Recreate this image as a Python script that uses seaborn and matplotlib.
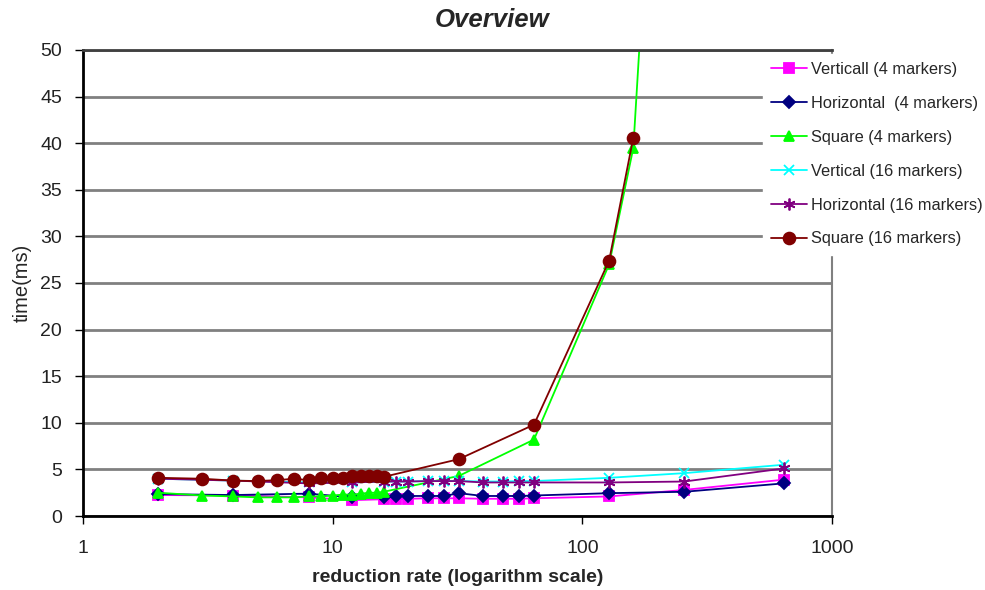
import seaborn as sns
import matplotlib.pyplot as plt
from matplotlib.ticker import FixedLocator, NullLocator, FuncFormatter

# reduction rates (x) for each group of series
x_square = [2, 3, 4, 5, 6, 7, 8, 9, 10, 11, 12, 13, 14, 15, 16, 32, 64, 128, 160]
x_square4 = x_square + [256]
x_lines = [2, 4, 8, 12, 16, 18, 20, 24, 28, 32, 40, 48, 56, 64, 128, 256, 640]

# times in ms
vertical4 = [2.25, 2.2, 2.0, 1.7, 1.8, 1.8, 1.85, 1.9, 1.9, 1.9, 1.85, 1.85, 1.85, 1.9, 2.1, 2.8, 3.9]
horizontal4 = [2.35, 2.25, 2.4, 2.0, 2.0, 2.1, 2.15, 2.15, 2.15, 2.45, 2.15, 2.15, 2.15, 2.2, 2.45, 2.6, 3.5]
square4 = [2.5, 2.2, 2.1, 2.0, 2.0, 2.0, 2.1, 2.1, 2.2, 2.3, 2.3, 2.4, 2.5, 2.5, 2.6, 4.3, 8.2, 27.0, 39.5, 130]
vertical16 = [4.0, 3.8, 3.6, 3.6, 3.7, 3.7, 3.7, 3.75, 3.75, 3.75, 3.7, 3.7, 3.75, 3.75, 4.1, 4.6, 5.5]
horizontal16 = [4.0, 3.8, 3.5, 3.6, 3.7, 3.7, 3.7, 3.75, 3.75, 3.75, 3.6, 3.6, 3.6, 3.6, 3.6, 3.7, 5.1]
square16 = [4.1, 4.0, 3.8, 3.75, 3.85, 4.0, 3.85, 4.1, 4.1, 4.1, 4.3, 4.3, 4.3, 4.3, 4.2, 6.1, 9.8, 27.4, 40.6]

series = [
    ("Verticall (4 markers)", x_lines, vertical4, "#FF00FF", "s", 6.5),
    ("Horizontal  (4 markers)", x_lines, horizontal4, "#000080", "D", 6),
    ("Square (4 markers)", x_square4, square4, "#00FF00", "^", 7.5),
    ("Vertical (16 markers)", x_lines, vertical16, "#00FFFF", "x", 7.5),
    ("Horizontal (16 markers)", x_lines, horizontal16, "#800080", (6, 2, 0), 8.5),
    ("Square (16 markers)", x_square, square16, "#800000", "o", 8.5),
]

sns.set_style("white")
plt.rcParams['font.family'] = ['Liberation Sans', 'DejaVu Sans']

fig = plt.figure(figsize=(9.85, 5.9), dpi=100)
ax = fig.add_axes([0.0843, 0.1254, 0.7604, 0.7899])

for name, xs, ys, color, marker, msize in series:
    sns.lineplot(x=xs, y=ys, ax=ax, color=color, marker=marker, markersize=msize,
                 markeredgecolor=color, markeredgewidth=1.3, linewidth=1.3,
                 label=name)

ax.set_xscale("log")
ax.set_xlim(1, 1000)
ax.set_ylim(0, 50)
ax.xaxis.set_major_locator(FixedLocator([1, 10, 100, 1000]))
ax.xaxis.set_minor_locator(NullLocator())
ax.xaxis.set_major_formatter(FuncFormatter(lambda v, p: f"{v:g}"))
ax.set_yticks(range(0, 51, 5))

ax.yaxis.grid(True, color="#808080", linewidth=2)
ax.xaxis.grid(False)
ax.tick_params(axis="both", direction="out", length=6, width=1, color="black",
               labelsize=14, labelcolor="#222222")
ax.tick_params(axis="y", pad=9)
ax.tick_params(axis="x", pad=11)
ax.tick_params(left=True, bottom=True)

for side in ["left", "bottom"]:
    ax.spines[side].set_color("black")
    ax.spines[side].set_linewidth(2)
ax.spines["top"].set_color("#404040")
ax.spines["top"].set_linewidth(2)
ax.spines["right"].set_color("#808080")
ax.spines["right"].set_linewidth(1.5)

ax.set_xlabel("reduction rate (logarithm scale)", fontsize=14, fontweight="bold", labelpad=9)
ax.set_ylabel("time(ms)", fontsize=14.5, labelpad=6)
fig.text(0.5, 0.966, "Overview", ha="center", va="center", fontsize=18.5,
         fontweight="bold", fontstyle="italic")

leg = ax.legend(loc="upper left", bbox_to_anchor=(763 / 985, 1 - 54 / 590),
                bbox_transform=fig.transFigure, frameon=True, fancybox=False,
                facecolor="white", edgecolor="white", framealpha=1, fontsize=11.8,
                handlelength=2.2, labelspacing=1.15, handletextpad=0.2,
                borderaxespad=0, borderpad=0.5)
leg.set_zorder(5)

fig.savefig("out.png", dpi=100)
